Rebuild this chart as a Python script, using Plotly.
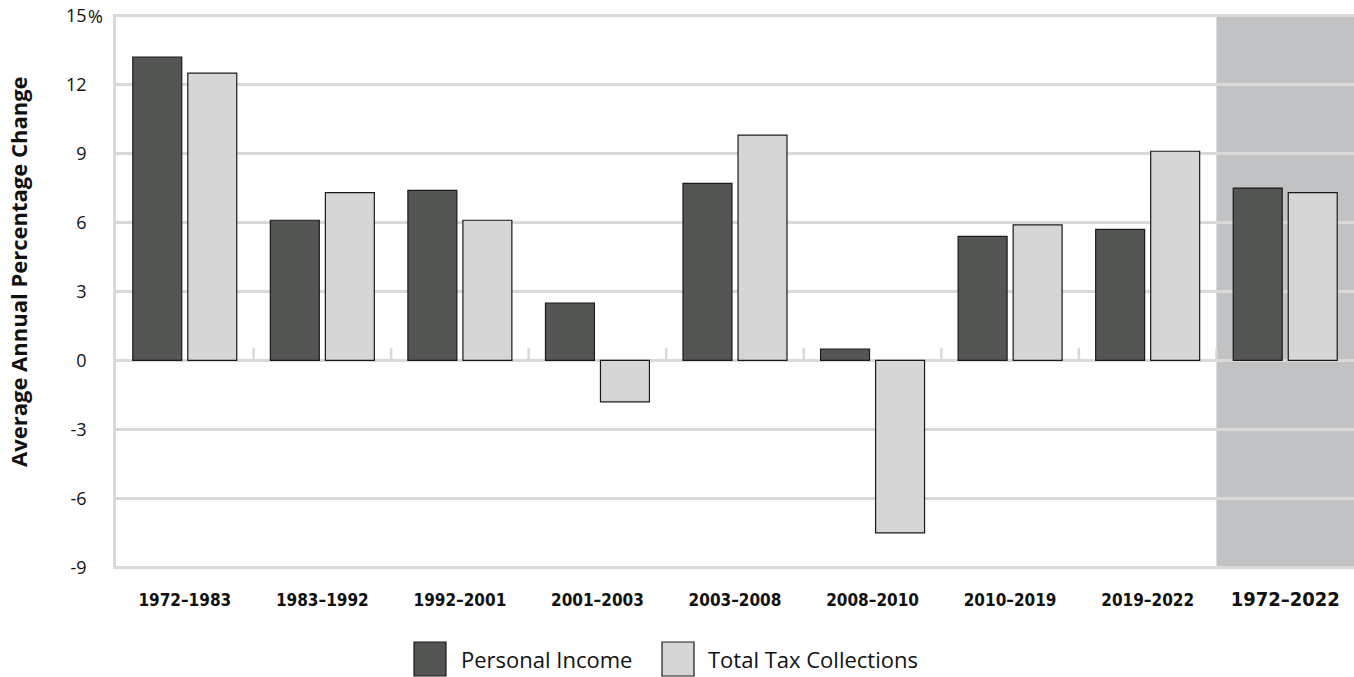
import plotly.graph_objects as go

# Period labels and average annual percentage change for each series
periods = ["1972–1983", "1983–1992", "1992–2001", "2001–2003", "2003–2008",
           "2008–2010", "2010–2019", "2019–2022", "1972–2022"]
personal_income = [13.2, 6.1, 7.4, 2.5, 7.7, 0.5, 5.4, 5.7, 7.5]
total_tax = [12.5, 7.3, 6.1, -1.8, 9.8, -7.5, 5.9, 9.1, 7.3]
y_ticks = [15, 12, 9, 6, 3, 0, -3, -6, -9]

DARK = "#545654"
LIGHT = "#d5d6d5"
GRID = "#d9d9d9"
SHADE = "#c1c2c4"
TICK_FONT = "DejaVu Sans Condensed, DejaVu Sans, sans-serif"
TEXT_FONT = "Open Sans, Noto Sans, sans-serif"

W, H = 1354, 677
M_L, M_R, M_T, M_B = 116, 0, 14, 108
PW, PH = W - M_L - M_R, H - M_T - M_B
PAD = 0.07  # keeps the outermost grid lines inside the plot area


def px_x(p):
    return (p - M_L) / PW


def px_y(p):
    return (H - M_B - p) / PH


fig = go.Figure()
fig.add_bar(x=periods, y=personal_income, name="Personal Income",
            marker=dict(color=DARK, line=dict(color="#1a1a1a", width=1.2)),
            showlegend=False)
fig.add_bar(x=periods, y=total_tax, name="Total Tax Collections",
            marker=dict(color=LIGHT, line=dict(color="#1a1a1a", width=1.2)),
            showlegend=False)

shapes = []
# Shaded background behind the full-period group
last = len(periods) - 1
shapes.append(dict(type="rect", xref="x", yref="y", x0=last - 0.5, x1=last + 0.5,
                   y0=y_ticks[-1], y1=y_ticks[0], fillcolor=SHADE,
                   line=dict(width=0), layer="below"))
# Small separators between period groups, sitting on the zero line
for i in range(len(periods) - 1):
    shapes.append(dict(type="line", xref="x", yref="y", x0=i + 0.5, x1=i + 0.5,
                       y0=0, y1=0.55, line=dict(color=GRID, width=2.5), layer="below"))

# Legend drawn as swatches with labels under the axis
legend_items = [("Personal Income", DARK, 414, 446, 459),
                ("Total Tax Collections", LIGHT, 662, 694, 706)]
annotations = []
for label, color, sx0, sx1, tx in legend_items:
    shapes.append(dict(type="rect", xref="paper", yref="paper",
                       x0=px_x(sx0), x1=px_x(sx1), y0=px_y(676), y1=px_y(642),
                       fillcolor=color, line=dict(color="#1a1a1a", width=1.2)))
    annotations.append(dict(text=label, xref="paper", yref="paper", x=px_x(tx), y=px_y(659),
                            xanchor="left", yanchor="middle", showarrow=False,
                            font=dict(family=TEXT_FONT, size=22, color="#111")))

# Percent sign hanging after the top tick label
annotations.append(dict(text="%", xref="paper", yref="y", x=0, y=y_ticks[0],
                        xanchor="left", yanchor="middle", xshift=-30, showarrow=False,
                        font=dict(family=TEXT_FONT, size=18, color="#111")))

# Vertical axis title
annotations.append(dict(text="<b>Average Annual Percentage Change</b>", xref="paper",
                        yref="paper", x=px_x(18), y=px_y(272), xanchor="center",
                        yanchor="middle", textangle=-90, showarrow=False,
                        font=dict(family=TEXT_FONT, size=22, color="#111")))

tick_text = [f"<b>{p}</b>" for p in periods]
tick_text[-1] = f"<b><span style='font-size:20px'>{periods[-1]}</span></b>"

fig.update_layout(
    width=W, height=H,
    margin=dict(l=M_L, r=M_R, t=M_T, b=M_B),
    paper_bgcolor="white", plot_bgcolor="white",
    barmode="group", bargap=0.2, bargroupgap=0.11,
    shapes=shapes, annotations=annotations,
    showlegend=False,
    xaxis=dict(tickmode="array", tickvals=periods, ticktext=tick_text,
               tickfont=dict(family=TICK_FONT, size=17, color="#111"),
               ticks="outside", ticklen=16, tickcolor="rgba(0,0,0,0)",
               showgrid=False, showline=False, range=[-0.5, last + 0.5]),
    yaxis=dict(range=[y_ticks[-1] - PAD, y_ticks[0] + PAD], tickvals=y_ticks,
               ticktext=[str(v) for v in y_ticks],
               tickfont=dict(family=TEXT_FONT, size=18, color="#111"),
               ticks="outside", ticklen=23, tickcolor="rgba(0,0,0,0)",
               showgrid=True, gridcolor=GRID, gridwidth=2.5, zeroline=False,
               showline=True, linecolor=GRID, linewidth=2.5),
)

fig.write_html("out.html")
